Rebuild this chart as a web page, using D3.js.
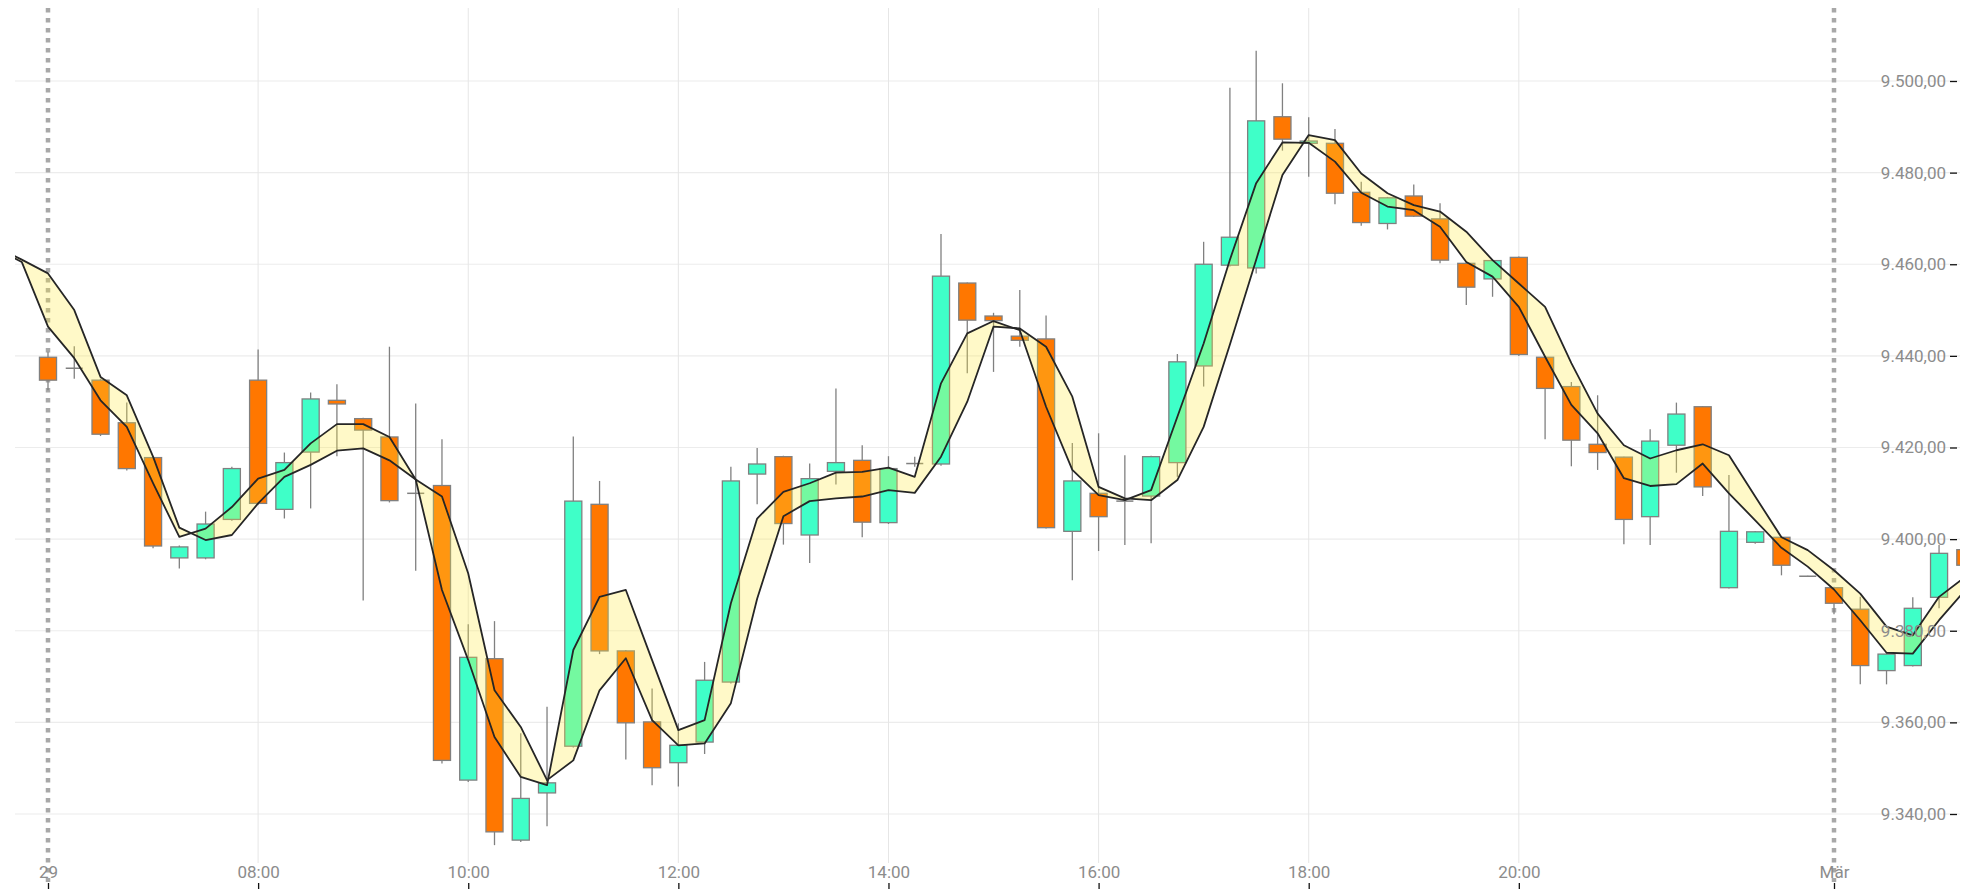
<!DOCTYPE html>
<html lang="en">
<head>
<meta charset="UTF-8">
<title>Candles</title>
<script src="https://d3js.org/d3.v7.min.js"></script>
<style>
body { margin: 0; background: #fff; }
</style>
</head>
<body>
<script>
// 15 min candles, index 0 and 1 have no visible candle
var opens = [null, null,
  9439.7, 9437.3, 9434.7, 9425.4, 9417.8, 9395.9, 9395.9, 9404.3, 9434.7, 9406.5,
  9419.0, 9430.3, 9426.3, 9422.3, 9410.0, 9411.7, 9347.4, 9373.9, 9334.3, 9344.6,
  9354.8, 9407.6, 9375.6, 9360.1, 9351.2, 9355.7, 9368.8, 9414.2, 9418.0, 9400.9,
  9414.8, 9417.2, 9403.6, 9416.5, 9416.4, 9455.9, 9448.7, 9444.3, 9443.7, 9401.7,
  9410.0, 9408.3, 9409.4, 9416.7, 9437.8, 9459.8, 9459.2, 9492.2, 9486.4, 9486.4,
  9475.7, 9468.9, 9474.9, 9469.9, 9460.2, 9456.8, 9461.5, 9439.7, 9433.3, 9420.7,
  9417.9, 9404.9, 9420.5, 9428.9, 9389.4, 9399.3, 9400.4, 9391.9, 9389.4, 9384.7,
  9371.3, 9372.4, 9387.3, 9397.7];
var highs = [null, null,
  9440.9, 9442.1, 9435.0, 9429.8, 9418.0, 9398.6, 9406.0, 9415.8, 9441.4, 9418.9,
  9432.0, 9433.8, 9426.5, 9442.0, 9429.6, 9421.8, 9381.4, 9382.1, 9357.6, 9363.4,
  9422.4, 9412.7, 9375.8, 9367.4, 9359.8, 9373.2, 9415.8, 9419.9, 9418.2, 9416.5,
  9432.9, 9420.5, 9418.1, 9418.0, 9466.6, 9456.0, 9449.4, 9454.4, 9448.8, 9421.0,
  9423.1, 9418.3, 9418.2, 9440.4, 9464.9, 9498.5, 9506.6, 9499.5, 9492.1, 9489.5,
  9478.0, 9474.7, 9477.4, 9473.3, 9460.4, 9461.0, 9461.7, 9440.0, 9434.3, 9431.4,
  9418.0, 9424.0, 9429.8, 9429.0, 9414.0, 9401.8, 9400.6, 9392.0, 9389.6, 9387.4,
  9375.0, 9387.3, 9398.7, 9398.0];
var lows = [null, null,
  9432.5, 9435.0, 9422.5, 9415.0, 9398.0, 9393.6, 9395.6, 9404.0, 9407.5, 9404.5,
  9406.7, 9418.1, 9386.6, 9408.0, 9393.1, 9351.0, 9347.0, 9333.2, 9333.9, 9337.3,
  9354.5, 9374.9, 9351.9, 9346.3, 9346.0, 9353.1, 9368.5, 9407.6, 9398.8, 9394.8,
  9411.9, 9400.4, 9403.3, 9415.8, 9416.0, 9436.2, 9436.5, 9442.0, 9402.3, 9391.0,
  9397.4, 9398.7, 9399.1, 9413.6, 9433.3, 9459.5, 9458.0, 9484.8, 9479.1, 9473.1,
  9468.4, 9467.6, 9470.3, 9460.2, 9451.1, 9452.9, 9440.0, 9421.8, 9415.9, 9415.1,
  9398.9, 9398.7, 9414.5, 9409.4, 9389.2, 9399.0, 9392.1, 9391.8, 9383.6, 9368.3,
  9368.3, 9372.2, 9384.9, 9394.0];
var closes = [null, null,
  9434.7, 9437.3, 9422.9, 9415.4, 9398.5, 9398.3, 9403.3, 9415.4, 9407.8, 9416.7,
  9430.6, 9429.5, 9423.8, 9408.4, 9410.0, 9351.7, 9374.2, 9336.1, 9343.4, 9346.8,
  9408.3, 9375.6, 9359.9, 9350.1, 9355.0, 9369.2, 9412.7, 9416.4, 9403.4, 9413.2,
  9416.7, 9403.7, 9415.4, 9416.5, 9457.4, 9447.8, 9447.7, 9443.4, 9402.5, 9412.7,
  9404.9, 9408.3, 9418.0, 9438.7, 9460.0, 9465.9, 9491.3, 9487.3, 9486.9, 9475.5,
  9469.1, 9474.5, 9470.5, 9460.9, 9455.0, 9460.8, 9440.3, 9432.9, 9421.6, 9418.9,
  9404.3, 9421.4, 9427.3, 9411.4, 9401.7, 9401.6, 9394.3, 9391.9, 9386.0, 9372.4,
  9374.9, 9384.9, 9396.9, 9394.3];

// the two band lines
var fastLine = [
  9463.5, 9460.5, 9446.4, 9439.5, 9430.3, 9424.5, 9412.2, 9400.5, 9402.3, 9407.0,
  9413.2, 9415.1, 9420.9, 9425.1, 9425.1, 9422.3, 9413.0, 9388.9, 9373.6, 9356.8,
  9348.1, 9346.3, 9375.8, 9387.4, 9388.9, 9373.6, 9358.3, 9360.5, 9386.0, 9404.5,
  9410.3, 9412.2, 9414.5, 9414.7, 9415.6, 9413.6, 9434.0, 9444.9, 9447.6, 9445.6,
  9428.9, 9415.1, 9409.6, 9408.5, 9410.7, 9426.7, 9442.7, 9461.0, 9477.7, 9486.6,
  9486.5, 9482.4, 9475.6, 9472.6, 9471.8, 9468.2, 9460.5, 9457.3, 9450.7, 9439.8,
  9429.3, 9423.1, 9413.3, 9411.6, 9412.0, 9416.5, 9410.0, 9404.1, 9398.1, 9394.0,
  9389.0, 9382.3, 9375.2, 9375.0, 9382.3, 9388.9];
var slowLine = [
  9464.0, 9461.0, 9458.0, 9450.0, 9435.4, 9431.4, 9418.0, 9402.5, 9399.8, 9400.9,
  9407.8, 9413.6, 9416.2, 9419.3, 9419.8, 9417.2, 9413.0, 9409.3, 9392.5, 9367.0,
  9359.0, 9347.4, 9351.7, 9367.0, 9374.0, 9360.5, 9355.0, 9355.4, 9364.2, 9387.0,
  9405.0, 9408.3, 9408.9, 9409.3, 9410.7, 9410.1, 9418.0, 9430.0, 9446.4, 9446.0,
  9442.0, 9431.1, 9411.4, 9408.9, 9408.5, 9412.9, 9424.5, 9442.5, 9461.0, 9479.5,
  9488.2, 9487.1, 9479.8, 9475.5, 9472.9, 9471.5, 9467.1, 9460.9, 9455.8, 9450.7,
  9438.4, 9427.4, 9420.5, 9417.6, 9419.4, 9420.7, 9418.3, 9409.3, 9400.4, 9397.6,
  9393.2, 9388.1, 9380.9, 9379.0, 9387.4, 9391.8];

var tickIndex = [2, 10, 18, 26, 34, 42, 50, 58, 70];
var tickLabels = ["29", "08:00", "10:00", "12:00", "14:00", "16:00", "18:00", "20:00", "Mär"];
var dayIndex = [2, 70];
var valueTicks = [9340, 9360, 9380, 9400, 9420, 9440, 9460, 9480, 9500];

var width = 1982, height = 893;
var plotLeft = 15, plotRight = 1960, plotTop = 8, plotBottom = 889;

var x = d3.scaleLinear().domain([2, 70]).range([48, 1834]);
var y = d3.scaleLinear().domain([9340, 9500]).range([814, 81]);
var step = x(1) - x(0);
var bodyW = step * 0.65;

var de = d3.formatLocale({decimal: ",", thousands: ".", grouping: [3], currency: ["", " €"]});
var fmt = de.format(",.2f");

var svg = d3.select("body").append("svg")
  .attr("width", width)
  .attr("height", height);

svg.append("defs").append("clipPath").attr("id", "plot")
  .append("rect")
  .attr("x", plotLeft).attr("y", plotTop)
  .attr("width", plotRight - plotLeft).attr("height", plotBottom - plotTop);

// grid
svg.append("g").selectAll("line")
  .data(valueTicks)
  .enter().append("line")
  .attr("x1", plotLeft).attr("x2", plotRight)
  .attr("y1", function(d) { return y(d); })
  .attr("y2", function(d) { return y(d); })
  .style("stroke", "#ececec")
  .style("stroke-width", 1.2);

svg.append("g").selectAll("line")
  .data(tickIndex.filter(function(d) { return dayIndex.indexOf(d) < 0; }))
  .enter().append("line")
  .attr("x1", function(d) { return x(d); })
  .attr("x2", function(d) { return x(d); })
  .attr("y1", plotTop).attr("y2", 863)
  .style("stroke", "#e6e6e6")
  .style("stroke-width", 1);

svg.append("g").selectAll("line")
  .data(dayIndex)
  .enter().append("line")
  .attr("x1", function(d) { return x(d); })
  .attr("x2", function(d) { return x(d); })
  .attr("y1", plotTop).attr("y2", 882)
  .style("stroke", "#a8a8a8")
  .style("stroke-width", 4.5)
  .style("stroke-dasharray", "4.5,5.5");

var g = svg.append("g").attr("clip-path", "url(#plot)");

var candles = d3.range(opens.length).filter(function(i) { return opens[i] !== null; })
  .map(function(i) {
    return {i: i, o: opens[i], h: highs[i], l: lows[i], c: closes[i]};
  });

g.append("g").selectAll("line")
  .data(candles)
  .enter().append("line")
  .attr("x1", function(d) { return x(d.i); })
  .attr("x2", function(d) { return x(d.i); })
  .attr("y1", function(d) { return y(d.h); })
  .attr("y2", function(d) { return y(d.l); })
  .style("stroke", "#808080")
  .style("stroke-width", 1.3);

g.append("g").selectAll("rect")
  .data(candles.filter(function(d) { return d.o !== d.c; }))
  .enter().append("rect")
  .attr("x", function(d) { return x(d.i) - bodyW / 2; })
  .attr("width", bodyW)
  .attr("y", function(d) { return y(Math.max(d.o, d.c)); })
  .attr("height", function(d) { return Math.abs(y(d.o) - y(d.c)); })
  .style("fill", function(d) { return d.c > d.o ? "#3fffc8" : "#ff7700"; })
  .style("stroke", "#808080")
  .style("stroke-width", 1.3);

g.append("g").selectAll("line")
  .data(candles.filter(function(d) { return d.o === d.c; }))
  .enter().append("line")
  .attr("x1", function(d) { return x(d.i) - bodyW / 2; })
  .attr("x2", function(d) { return x(d.i) + bodyW / 2; })
  .attr("y1", function(d) { return y(d.c); })
  .attr("y2", function(d) { return y(d.c); })
  .style("stroke", "#808080")
  .style("stroke-width", 1.5);

// band between the two averages
var idx = d3.range(fastLine.length);

g.append("path")
  .datum(idx)
  .attr("d", d3.area()
    .x(function(i) { return x(i); })
    .y0(function(i) { return y(fastLine[i]); })
    .y1(function(i) { return y(slowLine[i]); }))
  .style("fill", "rgb(255,235,59)")
  .style("fill-opacity", 0.28);

[fastLine, slowLine].forEach(function(s) {
  g.append("path")
    .datum(idx)
    .attr("d", d3.line()
      .x(function(i) { return x(i); })
      .y(function(i) { return y(s[i]); }))
    .style("fill", "none")
    .style("stroke", "#262626")
    .style("stroke-width", 1.8)
    .style("stroke-linejoin", "round");
});

// axes
var xAxis = svg.append("g")
  .attr("transform", "translate(0," + plotBottom + ")")
  .call(d3.axisTop(x)
    .tickValues(tickIndex)
    .tickFormat(function(d, i) { return tickLabels[i]; })
    .tickSize(6)
    .tickPadding(5));

var yAxis = svg.append("g")
  .attr("transform", "translate(1957,0)")
  .call(d3.axisLeft(y)
    .tickValues(valueTicks)
    .tickFormat(fmt)
    .tickSize(7)
    .tickPadding(4));

[xAxis, yAxis].forEach(function(a) {
  a.select(".domain").remove();
  a.selectAll(".tick line").style("stroke", "#111").style("stroke-width", 1.3);
  a.selectAll("text")
    .style("font-family", "Roboto, 'Noto Sans', sans-serif")
    .style("font-size", "17px")
    .style("fill", "#8c8c8c");
});
</script>
</body>
</html>
